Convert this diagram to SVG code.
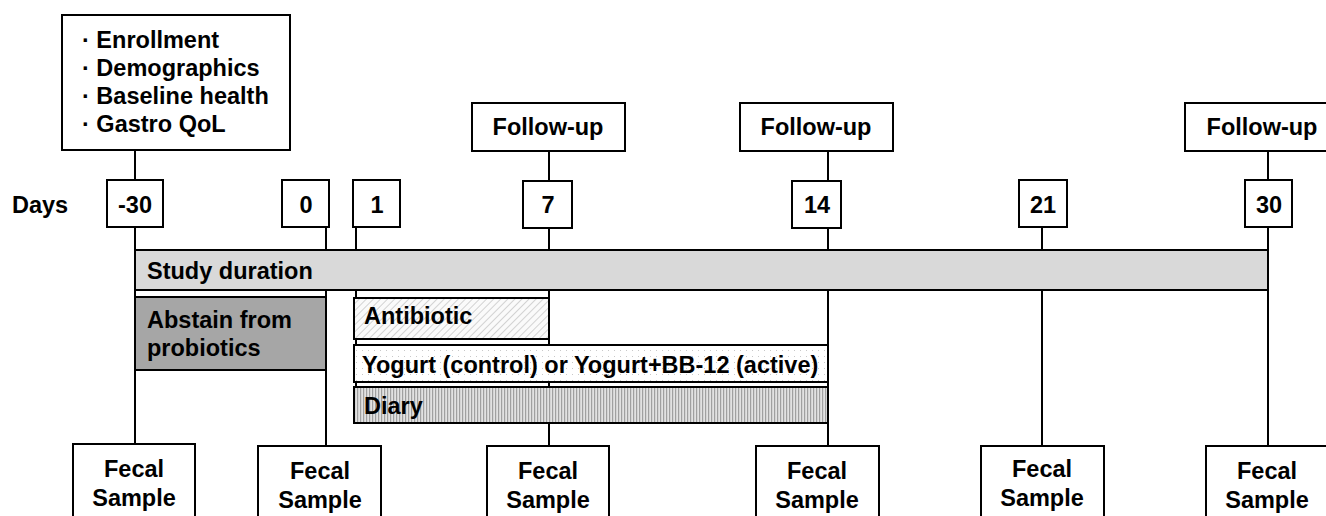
<svg xmlns="http://www.w3.org/2000/svg" width="1326" height="516" viewBox="0 0 1326 516">
<style>
.bx{fill:#fff;stroke:#000;stroke-width:2}
.t{font-family:"Liberation Sans",Arial,sans-serif;font-weight:bold;font-size:23.5px;fill:#000}
.c{text-anchor:middle}
.ln{stroke:#000;stroke-width:2;fill:none}
</style>
<defs>
<pattern id="diag" width="5" height="5" patternUnits="userSpaceOnUse" patternTransform="rotate(45)">
<rect width="5" height="5" fill="#fafafa"/>
<line x1="0" y1="0" x2="0" y2="5" stroke="#b8b8b8" stroke-width="1.2"/>
</pattern>
<pattern id="dots" width="6" height="6" patternUnits="userSpaceOnUse">
<rect width="6" height="6" fill="#fff"/>
<rect x="2" y="2" width="1" height="1" fill="#c8c8c8"/>
</pattern>
<pattern id="vert" width="3" height="3" patternUnits="userSpaceOnUse">
<rect width="3" height="3" fill="#e2e2e2"/>
<rect width="1.2" height="3" fill="#a0a0a0"/>
</pattern>
</defs>
<g id="connectors">
<line class="ln" x1="135" y1="150" x2="135" y2="180"/>
<line class="ln" x1="135" y1="227" x2="135" y2="444"/>
<line class="ln" x1="326" y1="227" x2="326" y2="446"/>
<line class="ln" x1="356" y1="227" x2="356" y2="423"/>
<line class="ln" x1="549" y1="151" x2="549" y2="181"/>
<line class="ln" x1="549" y1="227" x2="549" y2="446"/>
<line class="ln" x1="828" y1="151" x2="828" y2="181"/>
<line class="ln" x1="828" y1="227" x2="828" y2="446"/>
<line class="ln" x1="1042" y1="227" x2="1042" y2="446"/>
<line class="ln" x1="1268" y1="151" x2="1268" y2="180"/>
<line class="ln" x1="1268" y1="227" x2="1268" y2="446"/>
</g>
<g id="baseline-box">
<rect class="bx" x="62" y="15" width="228" height="135"/>
<text class="t" x="82" y="48">· Enrollment</text>
<text class="t" x="82" y="76">· Demographics</text>
<text class="t" x="82" y="104">· Baseline health</text>
<text class="t" x="82" y="132">· Gastro QoL</text>
</g>
<g id="followup-7"><rect class="bx" x="472" y="103" width="153" height="48"/><text class="t c" x="548" y="135">Follow-up</text></g>
<g id="followup-14"><rect class="bx" x="740" y="103" width="153" height="48"/><text class="t c" x="816" y="135">Follow-up</text></g>
<g id="followup-30"><rect class="bx" x="1185" y="103" width="150" height="48"/><text class="t c" x="1262" y="135">Follow-up</text></g>
<g id="days-label"><text class="t" x="12" y="213">Days</text></g>
<g id="day-m30"><rect class="bx" x="107" y="180" width="56" height="47"/><text class="t c" x="135" y="213">-30</text></g>
<g id="day-0"><rect class="bx" x="282" y="180" width="47" height="47"/><text class="t c" x="306" y="213">0</text></g>
<g id="day-1"><rect class="bx" x="353" y="180" width="47" height="47"/><text class="t c" x="377" y="213">1</text></g>
<g id="day-7"><rect class="bx" x="523" y="181" width="49" height="47"/><text class="t c" x="548" y="213">7</text></g>
<g id="day-14"><rect class="bx" x="792" y="181" width="49" height="47"/><text class="t c" x="817" y="213">14</text></g>
<g id="day-21"><rect class="bx" x="1019" y="180" width="48" height="47"/><text class="t c" x="1043" y="213">21</text></g>
<g id="day-30"><rect class="bx" x="1245" y="180" width="47" height="47"/><text class="t c" x="1269" y="213">30</text></g>
<g id="study-duration"><rect x="135" y="250" width="1133" height="40" fill="#d9d9d9" stroke="#000" stroke-width="2"/><text class="t" x="147" y="279">Study duration</text></g>
<g id="abstain"><rect x="135" y="297" width="191" height="73" fill="#a6a6a6" stroke="#000" stroke-width="2"/><text class="t" x="147" y="328">Abstain from</text><text class="t" x="147" y="356">probiotics</text></g>
<g id="antibiotic"><rect x="354" y="298" width="195" height="41" fill="url(#diag)" stroke="#000" stroke-width="2"/><text class="t" x="364" y="324">Antibiotic</text></g>
<g id="yogurt"><rect x="354" y="345" width="474" height="37" fill="url(#dots)" stroke="#000" stroke-width="2"/><text class="t" x="362" y="373">Yogurt (control) or Yogurt+BB-12 (active)</text></g>
<g id="diary"><rect x="354" y="387" width="474" height="36" fill="url(#vert)" stroke="#000" stroke-width="2"/><text class="t" x="364" y="414">Diary</text></g>
<g id="fecal-1"><rect class="bx" x="73" y="444" width="122" height="90"/><text class="t c" x="134" y="477">Fecal</text><text class="t c" x="134" y="506">Sample</text></g>
<g id="fecal-2"><rect class="bx" x="258" y="446" width="123" height="90"/><text class="t c" x="320" y="479">Fecal</text><text class="t c" x="320" y="508">Sample</text></g>
<g id="fecal-3"><rect class="bx" x="487" y="446" width="122" height="90"/><text class="t c" x="548" y="479">Fecal</text><text class="t c" x="548" y="508">Sample</text></g>
<g id="fecal-4"><rect class="bx" x="756" y="446" width="123" height="90"/><text class="t c" x="817" y="479">Fecal</text><text class="t c" x="817" y="508">Sample</text></g>
<g id="fecal-5"><rect class="bx" x="981" y="446" width="123" height="90"/><text class="t c" x="1042" y="477">Fecal</text><text class="t c" x="1042" y="506">Sample</text></g>
<g id="fecal-6"><rect class="bx" x="1206" y="446" width="130" height="90"/><text class="t c" x="1267" y="479">Fecal</text><text class="t c" x="1267" y="508">Sample</text></g>
</svg>
